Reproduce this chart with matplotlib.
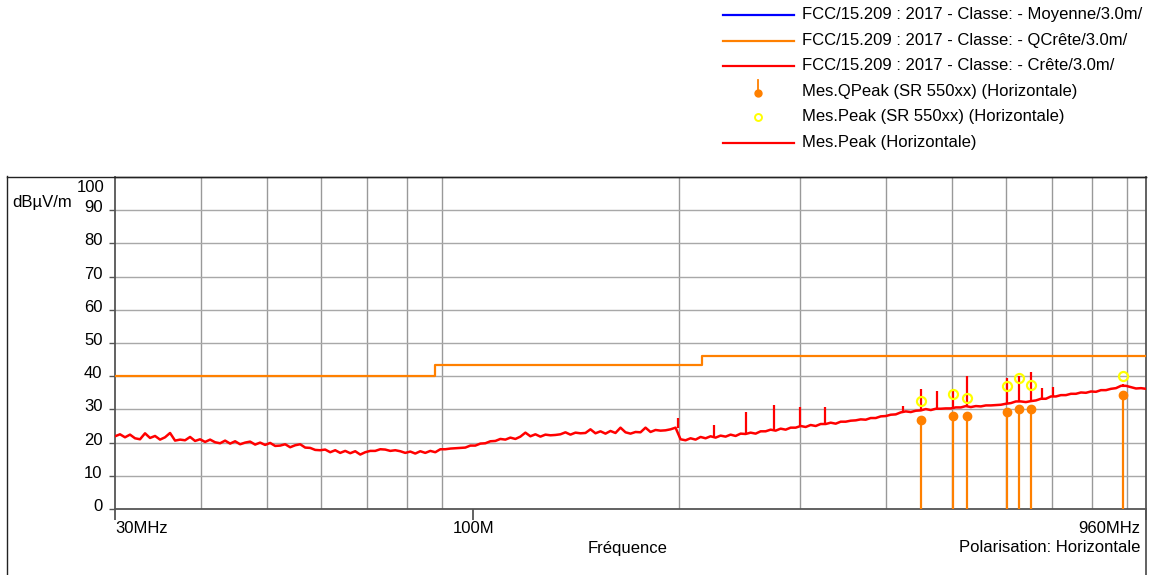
import numpy as np
import matplotlib
matplotlib.use('Agg')
import matplotlib.pyplot as plt
from matplotlib.lines import Line2D
import matplotlib.transforms as mtransforms

plt.rcParams['font.family'] = ['Liberation Sans', 'DejaVu Sans']

# limite FCC 15.209 quasi-crete (3 m)
lim_f = [30, 88, 216, 960]
lim_db = [40, 43.5, 46, 46]

# trace Mes.Peak (Horizontale)
trace_db = [
    21.9, 22.5, 21.6, 22.4, 21.3, 21.0, 22.8, 21.4, 22.0, 20.9,
    21.6, 22.9, 20.6, 20.9, 20.7, 21.7, 20.5, 21.0, 20.2, 20.9,
    20.1, 19.8, 20.6, 19.7, 20.4, 19.5, 20.0, 20.3, 19.4, 20.0,
    19.3, 19.9, 19.0, 19.1, 19.5, 18.6, 19.2, 19.5, 18.5, 18.4,
    17.8, 17.7, 17.9, 17.1, 17.7, 16.9, 17.5, 16.8, 17.4, 16.4,
    17.1, 17.5, 17.5, 18.0, 17.9, 17.5, 17.7, 17.4, 16.9, 17.3,
    16.7, 17.4, 16.9, 17.5, 17.1, 18.0, 18.0, 18.2, 18.3, 18.4,
    18.5, 19.1, 19.1, 19.7, 19.8, 20.4, 20.5, 21.1, 20.9, 21.5,
    21.1, 21.8, 23.0, 21.9, 22.5, 21.8, 22.4, 22.2, 22.3, 22.5,
    23.1, 22.4, 23.0, 22.8, 22.9, 24.0, 22.8, 23.4, 22.7, 23.5,
    22.9, 24.5, 23.1, 22.7, 23.2, 23.1, 24.5, 23.2, 23.8, 23.6,
    23.7, 24.0, 24.5, 21.0, 20.7, 21.3, 20.9, 21.7, 21.3, 21.9,
    21.5, 22.1, 21.8, 22.4, 22.0, 22.7, 22.6, 23.0, 22.7, 23.4,
    23.4, 23.9, 23.6, 24.2, 23.9, 24.5, 24.5, 25.0, 24.7, 25.3,
    25.0, 25.6, 25.6, 26.0, 25.7, 26.3, 26.3, 26.6, 26.7, 27.0,
    26.9, 27.4, 27.4, 27.9, 28.0, 28.4, 28.5, 29.1, 29.4, 29.2,
    29.6, 29.7, 30.1, 29.8, 30.2, 30.2, 30.3, 30.3, 30.6, 30.6,
    31.0, 30.7, 31.0, 30.9, 31.2, 31.2, 31.3, 31.4, 31.7, 31.9,
    32.4, 32.4, 32.2, 32.5, 32.7, 33.2, 33.2, 33.9, 33.9, 34.3,
    34.3, 34.7, 34.7, 35.1, 35.0, 35.4, 35.3, 35.8, 35.8, 36.2,
    36.4, 37.1, 37.1, 36.7, 36.3, 36.4, 36.2,
]
trace_f = np.geomspace(30, 960, len(trace_db))

# raies etroites sur la trace
spike_f = [199.3, 224.9, 250.5, 275, 300, 326, 424.7, 451, 476, 501,
           526, 601, 626, 652, 677, 703, 888]
spike_base = [24.3, 21.7, 22.9, 23.9, 24.9, 25.8, 29.4, 29.9, 30.2, 30.4,
              30.9, 31.6, 32.4, 32.4, 33.1, 33.9, 37.0]
spike_top = [27.4, 25.4, 29.3, 31.4, 30.7, 30.7, 31.0, 36.2, 35.6, 35.9,
             40.0, 39.5, 40.2, 41.3, 36.5, 36.8, 37.8]

# mesures finales
meas_f = [451, 501, 526, 601, 626, 652, 888]
qpeak = [26.8, 28.1, 28.0, 29.2, 30.1, 30.0, 34.3]
peak = [32.6, 34.5, 33.3, 36.9, 39.5, 37.2, 40.0]

orange = '#ff8000'
red = '#ff0000'
yellow = '#ffff00'
blue = '#0000ff'
W, H = 1149, 575
fs = 12

fig = plt.figure(figsize=(11.49, 5.75), dpi=100)
ax = fig.add_axes([115 / W, 1 - 509 / H, (1146 - 115) / W, (509 - 177) / H])

ax.set_xscale('log')
ax.set_xlim(30, 960)
ax.set_ylim(0, 100)

minor_x = [40, 50, 60, 70, 80, 90, 200, 300, 400, 500, 600, 700, 800, 900]
for f in minor_x:
    ax.axvline(f, color='#999999', lw=1.0, zorder=1)
for v in range(10, 100, 10):
    ax.axhline(v, color='#a8a8a8', lw=1.0, zorder=1)

ax.step(lim_f, lim_db, where='post', color=orange, lw=1.6, zorder=3)
ax.plot(trace_f, trace_db, color=red, lw=1.8, zorder=4)
ax.vlines(spike_f, spike_base, spike_top, color=red, lw=1.6, zorder=4)

ax.vlines(meas_f, 0, qpeak, color=orange, lw=1.6, zorder=5)
ax.plot(meas_f, qpeak, 'o', color=orange, ms=6, zorder=6)
ax.plot(meas_f, peak, 'o', mfc='none', mec=yellow, mew=1.6, ms=6.5, zorder=6)

for s in ax.spines.values():
    s.set_color('#555555')
    s.set_linewidth(1.3)
ax.spines['top'].set_color('#222222')
ax.spines['top'].set_linewidth(1.0)

ax.xaxis.set_minor_locator(matplotlib.ticker.NullLocator())
ax.set_xticks([30, 100, 960])
ax.set_xticklabels([])
ax.tick_params(axis='x', length=8, width=1.3, color='#555555')
ax.text(30, -3.5, '30MHz', fontsize=fs, ha='left', va='top')
ax.text(100, -3.5, '100M', fontsize=fs, ha='center', va='top')
ax.text(0.994, -0.035, '960MHz', fontsize=fs, ha='right', va='top',
        transform=ax.transAxes)

ax.set_yticks(range(0, 100, 10))
ax.set_yticklabels([str(v) for v in range(0, 100, 10)], fontsize=fs)
ax.tick_params(axis='y', length=4, width=1.0, color='#555555', pad=5)
for lab in ax.get_yticklabels():
    lab.set_transform(lab.get_transform() +
                      mtransforms.ScaledTranslation(0, 4 / 100, fig.dpi_scale_trans))
fig.text(104 / W, 1 - 187 / H, '100', fontsize=fs, ha='right', va='center')
fig.text(12 / W, 1 - 203 / H, 'dBµV/m', fontsize=fs, ha='left', va='center')

fig.text(628 / W, 1 - 548 / H, 'Fréquence', fontsize=fs, ha='center', va='center')
fig.text(1140 / W, 1 - 548 / H, 'Polarisation: Horizontale', fontsize=fs,
         ha='right', va='center')

# cadre exterieur
fig.add_artist(Line2D([7 / W, 7 / W], [0, 1 - 176 / H], color='#222222', lw=1.0))
fig.add_artist(Line2D([7 / W, 1146 / W], [1 - 176.5 / H, 1 - 176.5 / H],
                      color='#222222', lw=1.0))
fig.add_artist(Line2D([1146 / W, 1146 / W], [0, 1 - 509 / H], color='#555555', lw=1.3))

# legende
leg_items = [
    ('line', blue, 'FCC/15.209 : 2017 - Classe: - Moyenne/3.0m/'),
    ('line', orange, 'FCC/15.209 : 2017 - Classe: - QCrête/3.0m/'),
    ('line', red, 'FCC/15.209 : 2017 - Classe: - Crête/3.0m/'),
    ('stem', orange, 'Mes.QPeak (SR 550xx) (Horizontale)'),
    ('ring', yellow, 'Mes.Peak (SR 550xx) (Horizontale)'),
    ('line', red, 'Mes.Peak (Horizontale)'),
]
rows = [15, 40.5, 66, 91, 117, 142.5]
for (kind, col, txt), y in zip(leg_items, rows):
    yf = 1 - y / H
    if kind == 'line':
        fig.add_artist(Line2D([723 / W, 794 / W], [yf, yf], color=col, lw=1.6))
    elif kind == 'stem':
        fig.add_artist(Line2D([758 / W, 758 / W], [1 - 80 / H, 1 - 93 / H], color=col, lw=1.3))
        fig.add_artist(Line2D([758 / W], [1 - 93 / H], marker='o', color=col, ms=5))
    else:
        fig.add_artist(Line2D([758 / W], [yf], marker='o', mfc='none', mec=col,
                              mew=1.4, ms=5))
    fig.text(802 / W, yf, txt, fontsize=fs, ha='left', va='center')

fig.savefig('out.png', dpi=100)
